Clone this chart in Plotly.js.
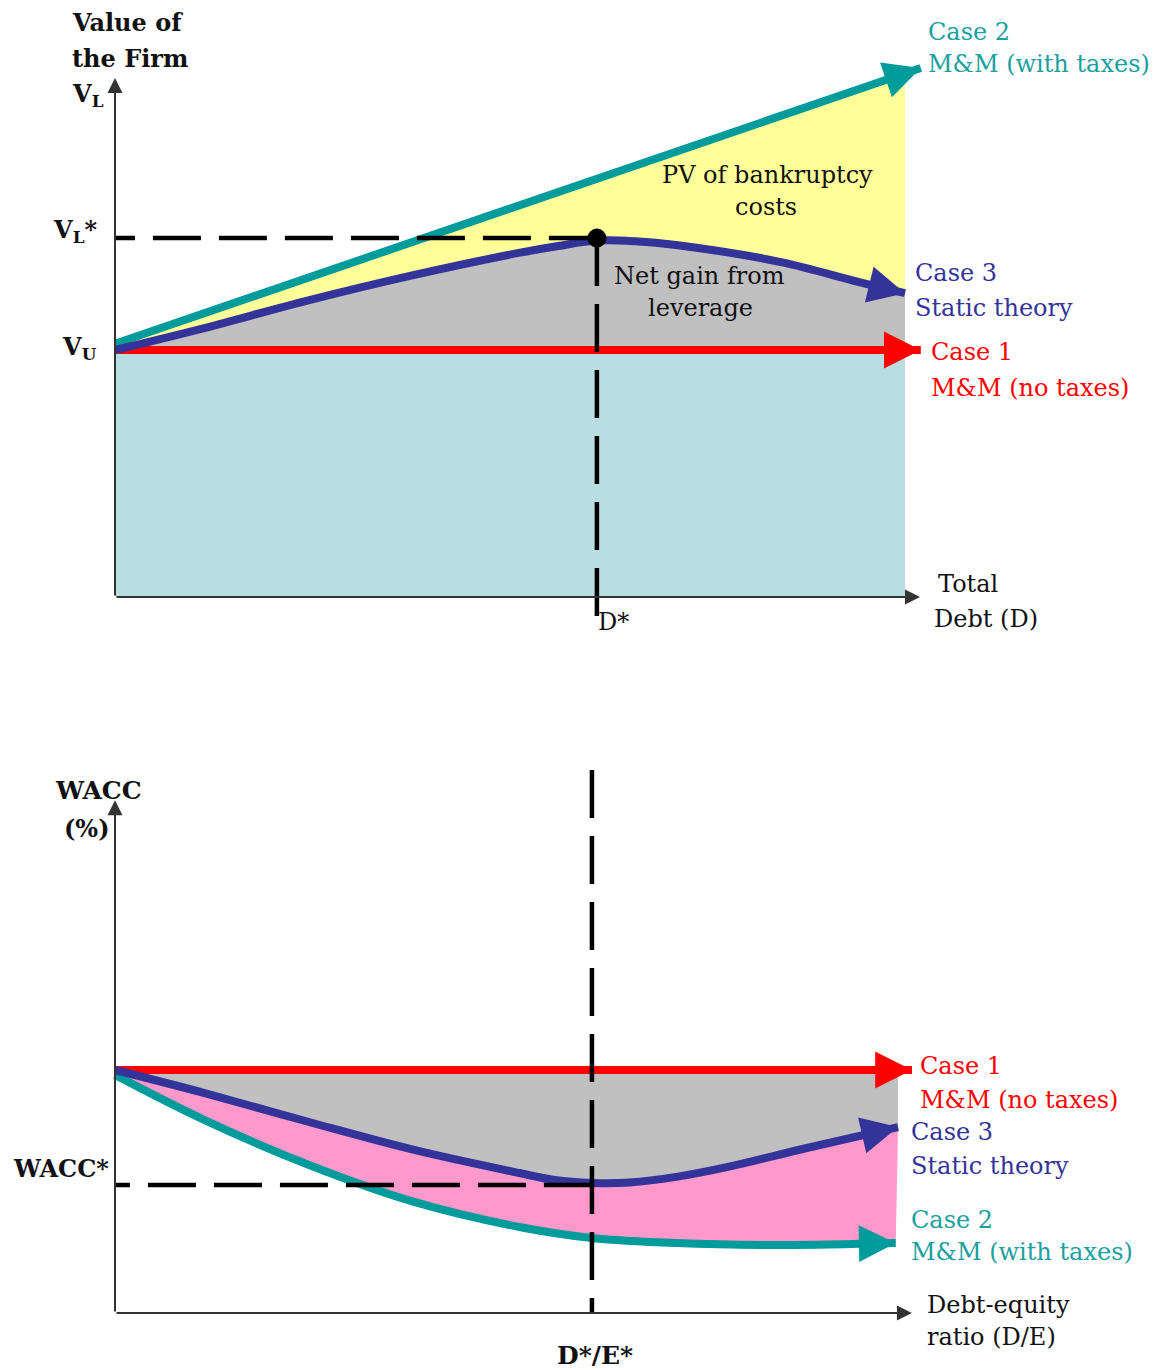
<!DOCTYPE html>
<html><head><meta charset="utf-8">
<script src="https://cdn.plot.ly/plotly-3.0.1.min.js"></script>
<style>html,body{margin:0;padding:0;background:#fff}#chart{width:1159px;height:1370px}</style>
</head><body><div id="chart"></div>
<script>
// ---------- Top panel: value of the firm vs total debt ----------
const debtStatic   = [0, 1.13, 2.46, 3.79, 5.11, 5.61, 6.1, 6.59, 7.1, 8.43, 9.42, 10];
const valueStatic  = [100, 108.9, 120.2, 130.4, 139.3, 142.1, 144.3, 144.0, 142.5, 135.6, 127.5, 123];
const debtTaxes    = [0, 10.2];
const valueTaxes   = [102.5, 214.2];
const debtNoTaxes  = [0, 10.2];
const valueNoTaxes = [100, 100];
const topOptimum   = [6.1, 145.3];     // [D*, VL*]
const topAxisEnds  = [10.19, 210.1];   // x-axis end, y-axis end
const topDropEnd   = [-14.2];          // lower end of D* guide

// ---------- Bottom panel: WACC vs debt-equity ratio ----------
const deStatic     = [0, 1.16, 2.51, 3.87, 5.23, 5.69, 6.17, 6.66, 7.26, 7.93, 8.95, 10.13];
const waccStatic   = [10, 9.05, 7.86, 6.71, 5.76, 5.47, 5.35, 5.37, 5.6, 6.01, 6.79, 7.65];
const deTaxes      = [0, 1.16, 2.51, 3.87, 5.23, 6.17, 7.26, 8.62, 10.1];
const waccTaxes    = [9.8, 7.94, 6.09, 4.57, 3.54, 3.09, 2.88, 2.8, 2.88];
const deNoTaxes    = [0, 10.31];
const waccNoTaxes  = [10, 10];
const botOptimum   = [6.17, 5.27];     // [D*/E*, WACC*]
const botAxisEnds  = [10.31, 21.1];
const botGuideTop  = [22.35];

// ---------- styling ----------
const W = 1159, H = 1370;
const FONT = 'DejaVu Serif';
const C = {teal:'#009b9b', tealText:'#1aa0a0', blue:'#333399', red:'#ff0000',
           yellow:'#ffff99', gray:'#c0c0c0', lightblue:'#b8dee1', pink:'#ff99cc', axis:'#333333'};
const topX = [-1.4557, 13.2152], topY = [-35.63, 241.70];
const botX = [-1.4877, 13.5058], botY = [-2.346, 25.844];

const last = a => a[a.length - 1];
function lerp(xs, ys, x) {
  for (let i = 1; i < xs.length; i++) {
    if (x <= xs[i]) { const t = (x - xs[i-1]) / (xs[i] - xs[i-1]); return ys[i-1] + t * (ys[i] - ys[i-1]); }
  }
  return last(ys);
}
const base = {mode:'lines', hoverinfo:'skip', showlegend:false};
function fillTr(x, y, xa, ya, fill, color, shape) {
  return Object.assign({}, base, {x, y, xaxis:xa, yaxis:ya, fill: fill, fillcolor: color,
    line:{width:0, shape: shape || 'linear', color: color, smoothing: 1}});
}
function lineTr(x, y, xa, ya, color, width, shape, dash) {
  return Object.assign({}, base, {x, y, xaxis:xa, yaxis:ya,
    line:{width, color, shape: shape || 'linear', dash: dash || 'solid', smoothing: 1}});
}

const topEnd = last(debtStatic);
const botEnd = last(deStatic);
const DASH = '48px,18px';

const traces = [
  // top fills
  fillTr([0, topEnd], [0, 0], 'x', 'y', 'none', 'rgba(0,0,0,0)'),
  fillTr([0, topEnd], [valueNoTaxes[0], valueNoTaxes[0]], 'x', 'y', 'tonexty', C.lightblue),
  fillTr(debtStatic, valueStatic, 'x', 'y', 'tonexty', C.gray, 'spline'),
  fillTr([0, topEnd], [valueTaxes[0], lerp(debtTaxes, valueTaxes, topEnd)], 'x', 'y', 'tonexty', C.yellow),
  // top lines
  lineTr(debtNoTaxes, valueNoTaxes, 'x', 'y', C.red, 8),
  lineTr(debtTaxes, valueTaxes, 'x', 'y', C.teal, 8),
  lineTr(debtStatic, valueStatic, 'x', 'y', C.blue, 8, 'spline'),
  // top guides
  lineTr([topOptimum[0], 0], [topOptimum[1], topOptimum[1]], 'x', 'y', '#000', 4.5, 'linear', DASH),
  lineTr([topOptimum[0], topOptimum[0]], [topOptimum[1], topDropEnd[0]], 'x', 'y', '#000', 4.5, 'linear', DASH),
  Object.assign({}, base, {mode:'markers', x:[topOptimum[0]], y:[topOptimum[1]], xaxis:'x', yaxis:'y',
    marker:{size:19, color:'#000'}}),

  // bottom fills
  fillTr([0, botEnd], [waccNoTaxes[0], waccNoTaxes[0]], 'x2', 'y2', 'none', 'rgba(0,0,0,0)'),
  fillTr(deStatic, waccStatic, 'x2', 'y2', 'tonexty', C.gray, 'spline'),
  fillTr(deTaxes, waccTaxes, 'x2', 'y2', 'tonexty', C.pink, 'spline'),
  // bottom lines
  lineTr(deNoTaxes, waccNoTaxes, 'x2', 'y2', C.red, 8),
  lineTr(deTaxes, waccTaxes, 'x2', 'y2', C.teal, 8, 'spline'),
  lineTr(deStatic, waccStatic, 'x2', 'y2', C.blue, 8, 'spline'),
  // bottom guides
  lineTr([botOptimum[0], 0], [botOptimum[1], botOptimum[1]], 'x2', 'y2', '#000', 4.5, 'linear', DASH),
  lineTr([botOptimum[0], botOptimum[0]], [botGuideTop[0], 0], 'x2', 'y2', '#000', 4.5, 'linear', DASH)
];

// pixel scale of each panel (for arrow direction)
const topPX = W / (topX[1] - topX[0]), topPY = (H / 2) / (topY[1] - topY[0]);
const botPX = W / (botX[1] - botX[0]), botPY = (H / 2) / (botY[1] - botY[0]);

function curveArrow(xs, ys, xa, ya, color, sx, sy) {
  const n = xs.length;
  const dx = (xs[n-1] - xs[n-2]) * sx, dy = -(ys[n-1] - ys[n-2]) * sy;
  const len = Math.hypot(dx, dy), L = 34;
  return {xref:xa, yref:ya, x:xs[n-1], y:ys[n-1], ax:-dx/len*L, ay:-dy/len*L, text:'',
    showarrow:true, arrowhead:2, arrowsize:0.92, arrowwidth:8, arrowcolor:color, standoff:0};
}
function axisArrow(xa, ya, x, y) {
  return {xref:xa, yref:ya, x, y, axref:xa, ayref:ya, ax:0, ay:0, text:'', showarrow:true,
    arrowhead:2, arrowsize:1.5, arrowwidth:2, arrowcolor:C.axis, standoff:0};
}
function lab(text, px, py, color, anchor, size) {
  return {xref:'paper', yref:'paper', x:px / W, y:1 - py / H, xanchor:anchor || 'left', yanchor:'middle',
    text, showarrow:false, font:{family:FONT, size:size || 24, color: color || '#111'}};
}
const K = '#111';

const annotations = [
  axisArrow('x', 'y', topAxisEnds[0], 0),
  axisArrow('x', 'y', 0, topAxisEnds[1]),
  axisArrow('x2', 'y2', botAxisEnds[0], 0),
  axisArrow('x2', 'y2', 0, botAxisEnds[1]),
  curveArrow(debtNoTaxes, valueNoTaxes, 'x', 'y', C.red, topPX, topPY),
  curveArrow(debtTaxes, valueTaxes, 'x', 'y', C.teal, topPX, topPY),
  curveArrow(debtStatic, valueStatic, 'x', 'y', C.blue, topPX, topPY),
  curveArrow(deNoTaxes, waccNoTaxes, 'x2', 'y2', C.red, botPX, botPY),
  curveArrow(deTaxes, waccTaxes, 'x2', 'y2', C.teal, botPX, botPY),
  curveArrow(deStatic, waccStatic, 'x2', 'y2', C.blue, botPX, botPY),

  lab('<b>Value of</b>', 70, 22), lab('<b>the Firm</b>', 70, 58), lab('<b>V<sub>L</sub></b>', 70, 95),
  lab('<b>V<sub>L</sub>*</b>', 51, 231), lab('<b>V<sub>U</sub></b>', 60, 348),
  lab('D*', 596, 622), lab('Total', 936, 584), lab('Debt (D)', 932, 619),
  lab('PV of bankruptcy', 768, 175, K, 'center'), lab('costs', 766, 207, K, 'center'),
  lab('Net gain from', 699, 276, K, 'center'), lab('leverage', 700, 308, K, 'center'),
  lab('Case 2', 926, 32, C.tealText), lab('M&amp;M (with taxes)', 926, 64, C.tealText),
  lab('Case 3', 913, 273, C.blue), lab('Static theory', 913, 308, C.blue),
  lab('Case 1', 929, 352, C.red), lab('M&amp;M (no taxes)', 929, 388, C.red),

  lab('<b>WACC</b>', 53, 790, K, 'left', 25), lab('<b>(%)</b>', 62, 828), lab('<b>WACC*</b>', 11, 1168),
  lab('<b>D*/E*</b>', 595, 1355, K, 'center', 25),
  lab('Debt-equity', 925, 1305), lab('ratio (D/E)', 925, 1337),
  lab('Case 1', 918, 1066, C.red), lab('M&amp;M (no taxes)', 918, 1100, C.red),
  lab('Case 3', 909, 1132, C.blue), lab('Static theory', 909, 1166, C.blue),
  lab('Case 2', 909, 1220, C.tealText), lab('M&amp;M (with taxes)', 909, 1252, C.tealText)
];

const hidden = {visible:false, fixedrange:true};
const layout = {
  width:W, height:H, margin:{l:0, r:0, t:0, b:0}, showlegend:false, hovermode:false,
  paper_bgcolor:'#fff', plot_bgcolor:'rgba(0,0,0,0)',
  xaxis: Object.assign({domain:[0,1], range:topX, anchor:'y'}, hidden),
  yaxis: Object.assign({domain:[0.5,1], range:topY, anchor:'x'}, hidden),
  xaxis2: Object.assign({domain:[0,1], range:botX, anchor:'y2'}, hidden),
  yaxis2: Object.assign({domain:[0,0.5], range:botY, anchor:'x2'}, hidden),
  annotations
};
Plotly.newPlot('chart', traces, layout, {staticPlot:true, displayModeBar:false});
</script></body></html>
